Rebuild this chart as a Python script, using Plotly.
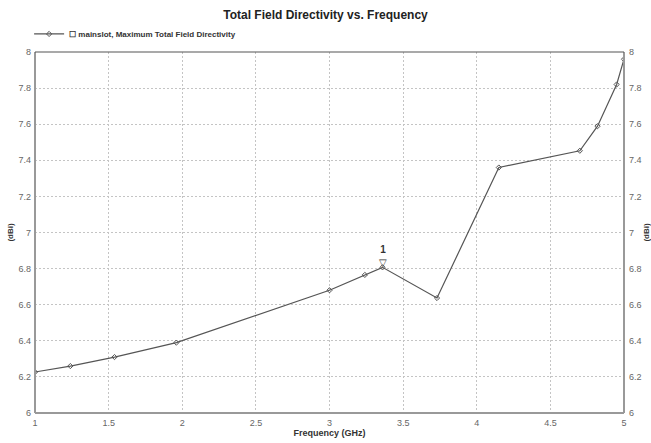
import plotly.graph_objects as go

freq_ghz = [1.0, 1.24, 1.54, 1.96, 3.0, 3.24, 3.36, 3.73, 4.15, 4.70, 4.82, 4.95, 5.0]
directivity_dbi = [6.227, 6.26, 6.31, 6.39, 6.68, 6.765, 6.807, 6.637, 7.36, 7.453, 7.589, 7.82, 7.96]
marker_freq = [3.36]
marker_val = [6.807]
x_ticks = [1, 1.5, 2, 2.5, 3, 3.5, 4, 4.5, 5]
x_tick_text = ["1", "1.5", "2", "2.5", "3", "3.5", "4", "4.5", "5"]
y_ticks = [6, 6.2, 6.4, 6.6, 6.8, 7, 7.2, 7.4, 7.6, 7.8, 8]
y_tick_text = ["6", "6.2", "6.4", "6.6", "6.8", "7", "7.2", "7.4", "7.6", "7.8", "8"]

FONT = "Liberation Sans Narrow, Liberation Sans, Arial"
GRAY = "#666666"

fig = go.Figure()
fig.add_trace(go.Scatter(
    x=freq_ghz, y=directivity_dbi, mode="lines+markers",
    name="<b>☐ mainslot, Maximum Total Field Directivity</b>",
    line=dict(color="#555555", width=1.2),
    marker=dict(symbol="diamond-open", size=4, color="#555555", line=dict(width=1)),
))
fig.add_trace(go.Scatter(
    x=freq_ghz, y=directivity_dbi, yaxis="y2", mode="none",
    showlegend=False, hoverinfo="skip",
))

fig.add_annotation(
    x=marker_freq[0], y=marker_val[0], xref="x", yref="y",
    text="<b>1</b><br>▽", showarrow=False, yanchor="bottom",
    font=dict(family=FONT, size=10, color="#333333"), yshift=-3,
)

axis_common = dict(
    tickfont=dict(family=FONT, size=9, color=GRAY),
    showgrid=True, gridcolor="#c4c4c4", griddash="2px,2px", gridwidth=1,
    zeroline=False, ticks="", showline=False, automargin=False,
)

fig.update_layout(
    width=651, height=443,
    margin=dict(l=35, r=27, t=52, b=30),
    paper_bgcolor="white", plot_bgcolor="white",
    title=dict(text="<b>Total Field Directivity vs. Frequency</b>", x=0.5, xanchor="center",
               y=0.966, yanchor="middle",
               font=dict(family=FONT, size=12, color="#222222")),
    showlegend=True,
    legend=dict(x=-0.01, y=1.05, xanchor="left", yanchor="middle",
                font=dict(family=FONT, size=8, color="#333333"),
                bgcolor="rgba(0,0,0,0)", itemwidth=30),
    xaxis=dict(range=[1, 5], tickvals=x_ticks, ticktext=x_tick_text,
               ticklabelstandoff=3,
               title=dict(text="<b>Frequency (GHz)</b>", font=dict(family=FONT, size=9, color="#333333"),
                          standoff=0),
               **axis_common),
    yaxis=dict(range=[6, 8], tickvals=y_ticks, ticktext=y_tick_text,
               ticklabelstandoff=3,
               title=dict(text="<b>(dBi)</b>", font=dict(family=FONT, size=8, color="#333333"),
                          standoff=3),
               **axis_common),
    yaxis2=dict(range=[6, 8], tickvals=y_ticks, ticktext=y_tick_text, overlaying="y", side="right",
                ticklabelstandoff=4, automargin=False,
                title=dict(text="<b>(dBi)</b>", font=dict(family=FONT, size=8, color="#333333"),
                           standoff=6),
                tickfont=dict(family=FONT, size=9, color=GRAY),
                showgrid=False, zeroline=False, showline=False),
)

fig.add_shape(type="line", xref="paper", yref="paper", x0=0, x1=0, y0=0, y1=1,
              line=dict(color="#999999", width=2))
fig.add_shape(type="line", xref="paper", yref="paper", x0=0, x1=1, y0=0, y1=0,
              line=dict(color="#999999", width=2))
fig.add_shape(type="line", xref="paper", yref="paper", x0=1, x1=1, y0=0, y1=1,
              line=dict(color="#999999", width=2))
fig.add_shape(type="line", xref="paper", yref="paper", x0=0, x1=1, y0=1, y1=1,
              line=dict(color="#555555", width=1.2))

fig.write_html("out.html")
